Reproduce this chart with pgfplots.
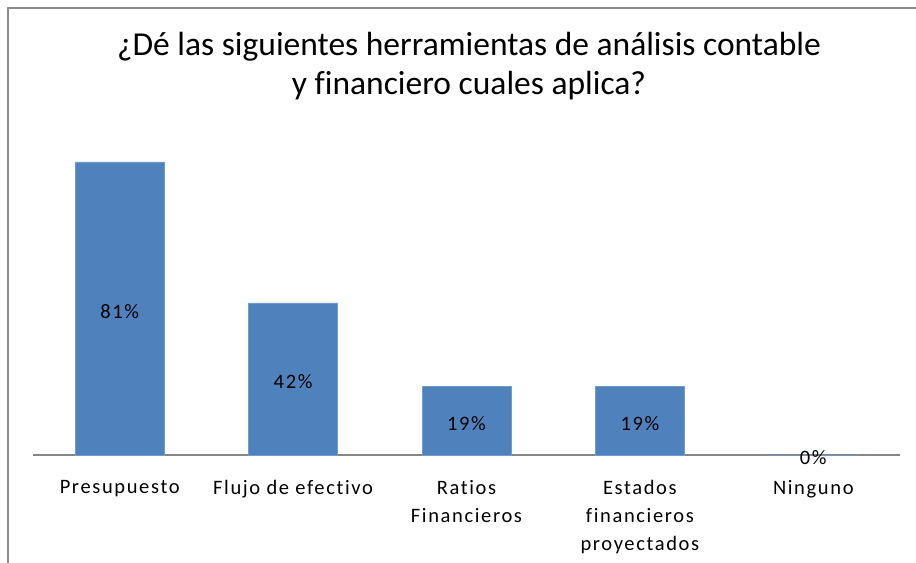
\documentclass[border=0pt]{standalone}
\usepackage{fontspec}
\setmainfont[Ligatures=NoCommon]{Carlito}
\newfontfamily\lblfont[LetterSpace=8, Ligatures=NoCommon]{Carlito}
\usepackage{pgfplots}
\pgfplotsset{compat=1.18}
\definecolor{barblue}{HTML}{4F81BD}
\definecolor{axgray}{HTML}{868686}
\definecolor{framegray}{HTML}{8C8C8C}

\begin{document}
\begin{tikzpicture}
  \path[use as bounding box] (0,0) rectangle (916bp,-563bp);
  \draw[framegray, line width=1.6bp] (8bp,-563bp) -- (8bp,-8bp) -- (916bp,-8bp);
  \node[align=center, font=\fontsize{33.5bp}{39bp}\selectfont] at (469bp,-66bp)
    {¿Dé las siguientes herramientas de análisis contable\\y financiero cuales aplica?};
  \begin{axis}[
      at={(33bp,-455bp)}, anchor=south west,
      scale only axis,
      width=867bp, height=362bp,
      xmin=-0.5, xmax=4.5,
      ymin=0, ymax=100,
      axis x line*=bottom,
      axis y line=none,
      x axis line style={axgray, line width=1.5bp},
      xtick=data,
      major tick length=0pt,
      xticklabels={Presupuesto, Flujo de efectivo, {Ratios\\Financieros}, {Estados\\financieros\\proyectados}, Ninguno},
      xticklabel style={align=center, font=\lblfont\fontsize{20.5bp}{28bp}\selectfont, yshift=-22bp},
      ybar, bar width=89bp,
      visualization depends on={y \as \rawy},
      /pgf/number format/assume math mode=true,
      nodes near coords={\pgfmathprintnumber{\pgfplotspointmeta}\%},
      nodes near coords style={font=\lblfont\fontsize{20.5bp}{23bp}\selectfont, anchor=center,
        shift={(axis direction cs:0,-\rawy/2)}, yshift=-3bp},
      clip=false,
    ]
    \addplot[fill=barblue, draw=barblue!80!white] coordinates {
      (0,81) (1,42) (2,19) (3,19) (4,0)
    };
  \end{axis}
\end{tikzpicture}
\end{document}
